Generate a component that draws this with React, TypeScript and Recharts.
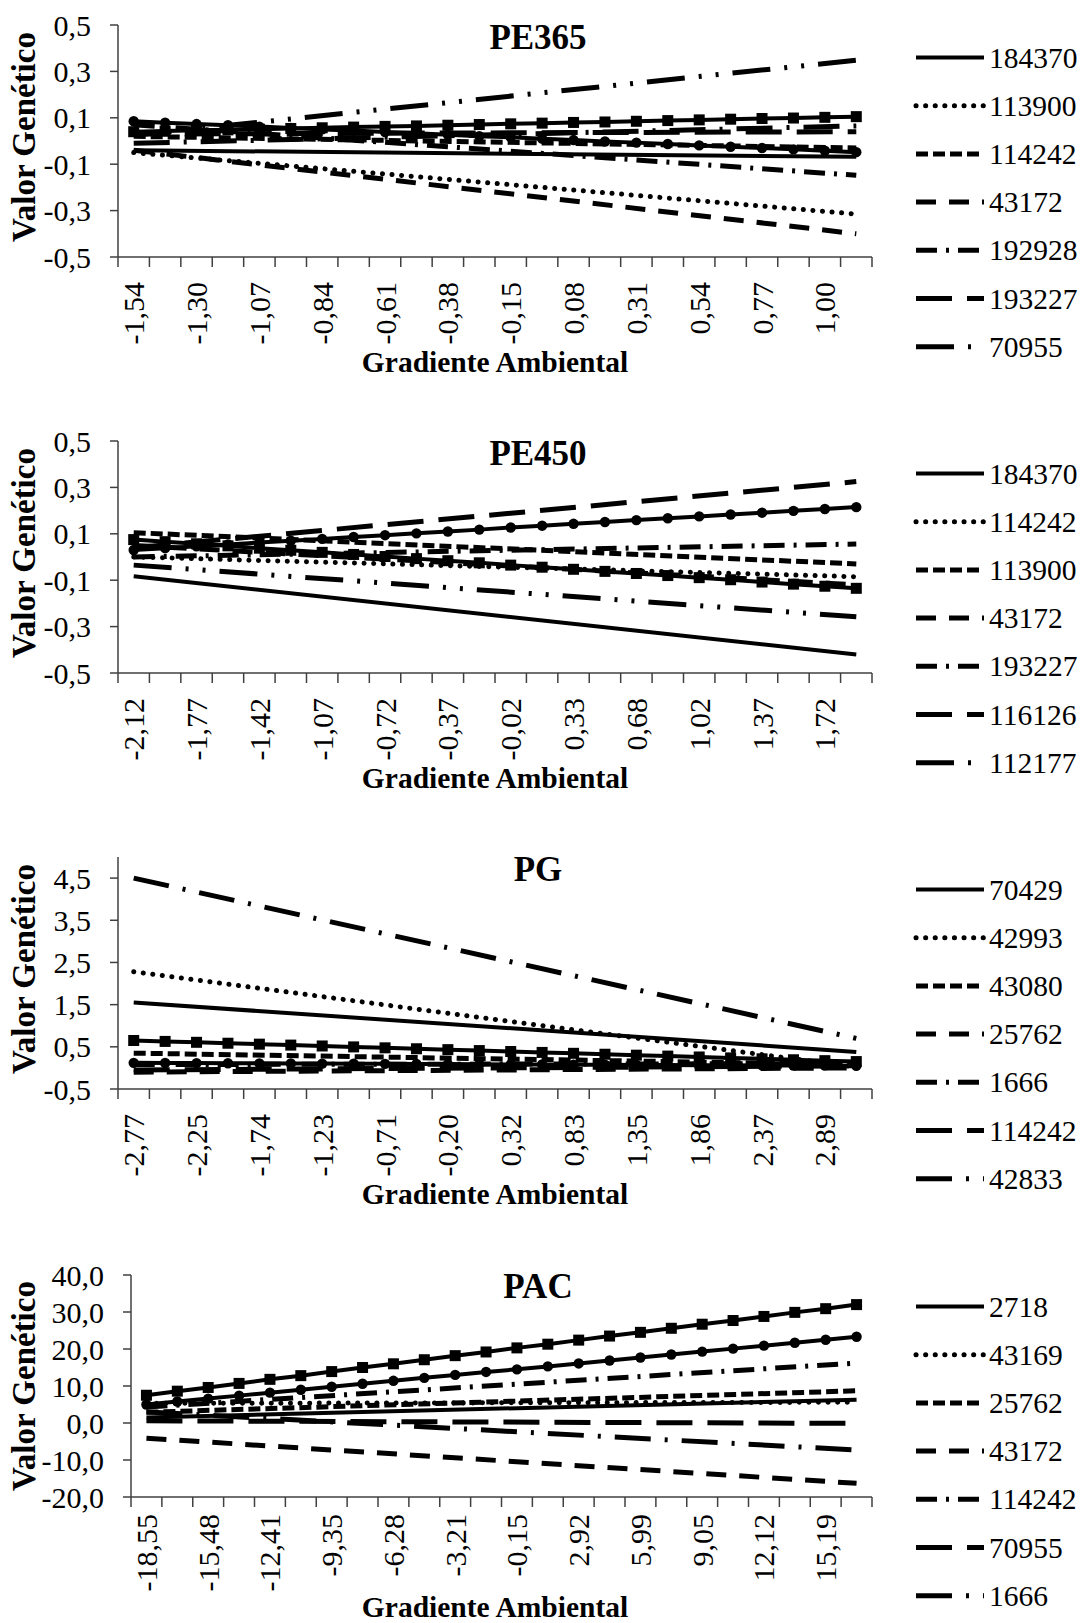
import React from "react";
import { LineChart, Line, XAxis, YAxis } from "recharts";

const FONT = '"Times New Roman", "Liberation Serif", serif';
const AXIS = "#404040";

// ---------- PE365 ----------
const pe365Title = "PE365";
const pe365Gradient = ["-1,54", "-1,42", "-1,30", "-1,19", "-1,07", "-0,96", "-0,84", "-0,73", "-0,61", "-0,50", "-0,38", "-0,27", "-0,15", "-0,04", "0,08", "0,19", "0,31", "0,42", "0,54", "0,65", "0,77", "0,88", "1,00", "1,12"];
const pe365Ticks = [-0.5, -0.3, -0.1, 0.1, 0.3, 0.5];
// first / last value of each straight line
const pe365_184370 = [-0.04, -0.068];
const pe365_113900 = [-0.05, -0.315];
const pe365_114242 = [0.02, -0.03];
const pe365_43172 = [-0.04, -0.4];
const pe365_192928 = [0.07, -0.148];
const pe365_193227 = [0.03, 0.04];
const pe365_70955 = [0.025, 0.348];
const pe365_extra = [-0.01, 0.065];
// lines with markers (one value per level)
const pe365Squares = [0.04, 0.043, 0.046, 0.048, 0.051, 0.054, 0.057, 0.06, 0.063, 0.065, 0.068, 0.071, 0.074, 0.077, 0.08, 0.082, 0.085, 0.088, 0.091, 0.094, 0.097, 0.099, 0.102, 0.105];
const pe365Circles = [0.085, 0.079, 0.073, 0.068, 0.062, 0.056, 0.05, 0.045, 0.039, 0.033, 0.027, 0.021, 0.016, 0.01, 0.004, -0.002, -0.007, -0.013, -0.019, -0.025, -0.03, -0.036, -0.042, -0.048];

// ---------- PE450 ----------
const pe450Title = "PE450";
const pe450Gradient = ["-2,12", "-1,95", "-1,77", "-1,60", "-1,42", "-1,25", "-1,07", "-0,90", "-0,72", "-0,55", "-0,37", "-0,20", "-0,02", "0,16", "0,33", "0,51", "0,68", "0,85", "1,02", "1,20", "1,37", "1,55", "1,72", "1,90"];
const pe450Ticks = [-0.5, -0.3, -0.1, 0.1, 0.3, 0.5];
const pe450_184370 = [-0.083, -0.42];
const pe450_114242 = [0.0, -0.085];
const pe450_113900 = [0.105, -0.03];
const pe450_43172 = [0.05, -0.12];
const pe450_193227 = [0.0, 0.056];
const pe450_116126 = [0.04, 0.325];
const pe450_112177 = [-0.035, -0.258];
const pe450Squares = [0.075, 0.066, 0.057, 0.048, 0.038, 0.029, 0.02, 0.011, 0.002, -0.007, -0.016, -0.025, -0.035, -0.044, -0.053, -0.062, -0.071, -0.08, -0.089, -0.098, -0.108, -0.117, -0.126, -0.135];
const pe450Circles = [0.03, 0.038, 0.046, 0.054, 0.062, 0.07, 0.078, 0.086, 0.094, 0.102, 0.11, 0.118, 0.127, 0.135, 0.143, 0.151, 0.159, 0.167, 0.175, 0.183, 0.191, 0.199, 0.207, 0.215];

// ---------- PG ----------
const pgTitle = "PG";
const pgGradient = ["-2,77", "-2,51", "-2,25", "-2,00", "-1,74", "-1,48", "-1,23", "-0,97", "-0,71", "-0,46", "-0,20", "0,06", "0,32", "0,57", "0,83", "1,09", "1,35", "1,60", "1,86", "2,12", "2,37", "2,63", "2,89", "3,15"];
const pgTicks = [-0.5, 0.5, 1.5, 2.5, 3.5, 4.5];
const pg_70429 = [1.55, 0.38];
const pg_42993 = [2.28, 0.02];
const pg_43080 = [0.35, 0.08];
const pg_25762 = [-0.1, 0.0];
const pg_1666 = [0.08, 0.1];
const pg_114242 = [-0.05, 0.05];
const pg_42833 = [4.5, 0.7];
const pgSquares = [0.65, 0.628, 0.607, 0.585, 0.563, 0.541, 0.52, 0.498, 0.476, 0.454, 0.433, 0.411, 0.389, 0.367, 0.346, 0.324, 0.302, 0.28, 0.259, 0.237, 0.215, 0.193, 0.172, 0.15];
const pgCircles = [0.12, 0.117, 0.114, 0.111, 0.108, 0.105, 0.102, 0.099, 0.096, 0.093, 0.09, 0.087, 0.083, 0.08, 0.077, 0.074, 0.071, 0.068, 0.065, 0.062, 0.059, 0.056, 0.053, 0.05];

// ---------- PAC ----------
const pacTitle = "PAC";
const pacGradient = ["-18,55", "-17,02", "-15,48", "-13,95", "-12,41", "-10,88", "-9,35", "-7,81", "-6,28", "-4,75", "-3,21", "-1,68", "-0,15", "1,39", "2,92", "4,45", "5,99", "7,52", "9,05", "10,59", "12,12", "13,65", "15,19", "16,72"];
const pacTicks = [-20, -10, 0, 10, 20, 30, 40];
const pac_2718 = [1.5, 6.3];
const pac_43169 = [5.3, 5.6];
const pac_25762 = [2.9, 8.7];
const pac_43172 = [-4.1, -16.3];
const pac_114242 = [4.3, 16.2];
const pac_70955 = [0.6, -0.1];
const pac_1666 = [3.0, -7.3];
const pacSquares = [7.5, 8.6, 9.6, 10.7, 11.8, 12.8, 13.9, 15.0, 16.0, 17.1, 18.2, 19.2, 20.3, 21.3, 22.4, 23.5, 24.5, 25.6, 26.7, 27.7, 28.8, 29.9, 30.9, 32.0];
const pacCircles = [5.0, 5.8, 6.6, 7.4, 8.2, 9.0, 9.8, 10.6, 11.4, 12.2, 13.0, 13.8, 14.5, 15.3, 16.1, 16.9, 17.7, 18.5, 19.3, 20.1, 20.9, 21.7, 22.5, 23.3];

type Style = "solid" | "dot" | "sysDash" | "dash" | "dashDot" | "longDash" | "longDashDot" | "longDashDotDot" | "squares" | "circles";

interface Series {
  key: string;
  values: number[];
  style: Style;
  legend: boolean;
}

const DASH: Record<Style, string | undefined> = {
  solid: undefined,
  dot: "0.1 9.5",
  sysDash: "12 5",
  dash: "20 13",
  dashDot: "21 9 3 9",
  longDash: "36 15",
  longDashDot: "36 14 3 14",
  longDashDotDot: "38 14 3 14 3 14",
  squares: undefined,
  circles: undefined,
};

const s = (key: string, values: number[], style: Style, legend = true): Series => ({ key, values, style, legend });

const pe365Series: Series[] = [
  s("184370", pe365_184370, "solid"),
  s("113900", pe365_113900, "dot"),
  s("114242", pe365_114242, "sysDash"),
  s("43172", pe365_43172, "dash"),
  s("192928", pe365_192928, "dashDot"),
  s("193227", pe365_193227, "longDash"),
  s("70955", pe365_70955, "longDashDotDot"),
  s("extra", pe365_extra, "longDashDot", false),
  s("sq", pe365Squares, "squares", false),
  s("ci", pe365Circles, "circles", false),
];

const pe450Series: Series[] = [
  s("184370", pe450_184370, "solid"),
  s("114242", pe450_114242, "dot"),
  s("113900", pe450_113900, "sysDash"),
  s("43172", pe450_43172, "dash"),
  s("193227", pe450_193227, "dashDot"),
  s("116126", pe450_116126, "longDash"),
  s("112177", pe450_112177, "longDashDotDot"),
  s("sq", pe450Squares, "squares", false),
  s("ci", pe450Circles, "circles", false),
];

const pgSeries: Series[] = [
  s("70429", pg_70429, "solid"),
  s("42993", pg_42993, "dot"),
  s("43080", pg_43080, "sysDash"),
  s("25762", pg_25762, "dash"),
  s("1666", pg_1666, "dashDot"),
  s("114242", pg_114242, "longDash"),
  s("42833", pg_42833, "longDashDot"),
  s("sq", pgSquares, "squares", false),
  s("ci", pgCircles, "circles", false),
];

const pacSeries: Series[] = [
  s("2718", pac_2718, "solid"),
  s("43169", pac_43169, "dot"),
  s("25762", pac_25762, "sysDash"),
  s("43172", pac_43172, "dash"),
  s("114242", pac_114242, "dashDot"),
  s("70955", pac_70955, "longDash"),
  s("1666", pac_1666, "longDashDot"),
  s("sq", pacSquares, "squares", false),
  s("ci", pacCircles, "circles", false),
];

function buildRows(labels: string[], series: Series[]) {
  return labels.map((label, i) => {
    const row: Record<string, any> = { label };
    series.forEach((ser) => {
      if (ser.values.length === labels.length) row[ser.key] = ser.values[i];
      else if (i === 0) row[ser.key] = ser.values[0];
      else if (i === labels.length - 1) row[ser.key] = ser.values[ser.values.length - 1];
      else row[ser.key] = null;
    });
    return row;
  });
}

const fmt = (v: number) => v.toFixed(1).replace(".", ",");

const SquareDot = (p: any) =>
  p.cx == null ? (
    <g key={`sq-${p.index}`} />
  ) : (
    <rect key={`sq-${p.index}`} x={p.cx - 5.5} y={p.cy - 5.5} width={11} height={11} fill="#000" />
  );

const CircleDot = (p: any) =>
  p.cx == null ? <g key={`ci-${p.index}`} /> : <circle key={`ci-${p.index}`} cx={p.cx} cy={p.cy} r={5.2} fill="#000" />;

const PLOT_RIGHT = 872;
const PANEL_W = 880;
const PANEL_H = 416;

const lineWidth = (st: Style) => (st === "solid" || st === "squares" || st === "circles" ? 4 : 5);

interface PanelProps {
  top: number;
  title: string;
  labels: string[];
  ticks: number[];
  domain: [number, number];
  series: Series[];
  plotLeft: number;
  plotTop: number;
  plotBottom: number;
  xTitleY: number;
  labelGap: number;
}

function Panel({ top, title, labels, ticks, domain, series, plotLeft, plotTop, plotBottom, xTitleY, labelGap }: PanelProps) {
  const rows = buildRows(labels, series);
  const bw = (PLOT_RIGHT - plotLeft) / labels.length;
  const legendItems = series.filter((x) => x.legend);

  const GradTick = (props: any) => {
    const { x, y, payload, index } = props;
    const off = bw / 2;
    const last = index === labels.length - 1;
    const ty = y + labelGap;
    return (
      <g>
        <line x1={x - off} y1={y} x2={x - off} y2={y + 10} stroke={AXIS} strokeWidth={1.5} />
        {last && <line x1={x + off} y1={y} x2={x + off} y2={y + 10} stroke={AXIS} strokeWidth={1.5} />}
        {index % 2 === 0 && (
          <text
            x={x}
            y={ty}
            transform={`rotate(-90, ${x}, ${ty})`}
            textAnchor="end"
            dominantBaseline="central"
            fontFamily={FONT}
            fontSize={30}
            fill="#000"
          >
            {payload.value}
          </text>
        )}
      </g>
    );
  };

  return (
    <div style={{ position: "absolute", left: 0, top, width: 1083, height: PANEL_H }}>
      <div style={{ position: "absolute", left: 0, top: 0 }}>
        <LineChart
          width={PANEL_W}
          height={PANEL_H}
          data={rows}
          margin={{ top: plotTop, right: PANEL_W - PLOT_RIGHT, bottom: 0, left: 0 }}
        >
          <XAxis
            dataKey="label"
            scale="band"
            interval={0}
            height={PANEL_H - plotBottom}
            tickSize={0}
            tickMargin={0}
            tickLine={false}
            axisLine={{ stroke: AXIS, strokeWidth: 1.5 }}
            tick={<GradTick />}
          />
          <YAxis
            type="number"
            domain={domain}
            ticks={ticks}
            interval={0}
            width={plotLeft}
            tickSize={8}
            tickMargin={19}
            tickFormatter={fmt}
            axisLine={{ stroke: AXIS, strokeWidth: 1.5 }}
            tickLine={{ stroke: AXIS, strokeWidth: 1.5 }}
            tick={{ fill: "#000", fontSize: 30, fontFamily: FONT }}
          />
          {series.map((ser) => (
            <Line
              key={ser.key}
              dataKey={ser.key}
              type="linear"
              stroke="#000"
              strokeWidth={lineWidth(ser.style)}
              strokeDasharray={DASH[ser.style]}
              strokeLinecap={ser.style === "dot" ? "round" : "butt"}
              connectNulls
              dot={ser.style === "squares" ? SquareDot : ser.style === "circles" ? CircleDot : false}
              activeDot={false}
              isAnimationActive={false}
            />
          ))}
        </LineChart>
      </div>
      <svg width={1083} height={PANEL_H} style={{ position: "absolute", left: 0, top: 0, pointerEvents: "none" }}>
        <text x={538} y={49} textAnchor="middle" fontFamily={FONT} fontWeight="bold" fontSize={35} fill="#000">
          {title}
        </text>
        <text
          x={24}
          y={137}
          transform="rotate(-90, 24, 137)"
          textAnchor="middle"
          dominantBaseline="central"
          fontFamily={FONT}
          fontWeight="bold"
          fontSize={33}
          fill="#000"
        >
          Valor Genético
        </text>
        <text x={495} y={xTitleY} textAnchor="middle" fontFamily={FONT} fontWeight="bold" fontSize={29.5} fill="#000">
          Gradiente Ambiental
        </text>
        {legendItems.map((item, i) => {
          const cy = 57.5 + i * 48.2;
          return (
            <g key={item.key}>
              <line
                x1={916}
                x2={984}
                y1={cy}
                y2={cy}
                stroke="#000"
                strokeWidth={lineWidth(item.style)}
                strokeDasharray={DASH[item.style]}
                strokeLinecap={item.style === "dot" ? "round" : "butt"}
              />
              <text x={989} y={cy} dominantBaseline="central" fontFamily={FONT} fontSize={29.5} fill="#000">
                {item.key}
              </text>
            </g>
          );
        })}
      </svg>
    </div>
  );
}

export default function App() {
  return (
    <div style={{ position: "absolute", left: 0, top: 0, width: 1083, height: 1623, background: "#fff", overflow: "hidden" }}>
      <Panel top={0} title={pe365Title} labels={pe365Gradient} ticks={pe365Ticks} domain={[-0.5, 0.5]} series={pe365Series} plotLeft={118} plotTop={25} plotBottom={257} xTitleY={372} labelGap={25} />
      <Panel top={416} title={pe450Title} labels={pe450Gradient} ticks={pe450Ticks} domain={[-0.5, 0.5]} series={pe450Series} plotLeft={118} plotTop={25} plotBottom={257} xTitleY={372} labelGap={25} />
      <Panel top={832} title={pgTitle} labels={pgGradient} ticks={pgTicks} domain={[-0.5, 5]} series={pgSeries} plotLeft={118} plotTop={25} plotBottom={257} xTitleY={372} labelGap={25} />
      <Panel top={1249} title={pacTitle} labels={pacGradient} ticks={pacTicks} domain={[-20, 40]} series={pacSeries} plotLeft={131} plotTop={26} plotBottom={248} xTitleY={368} labelGap={17} />
    </div>
  );
}
